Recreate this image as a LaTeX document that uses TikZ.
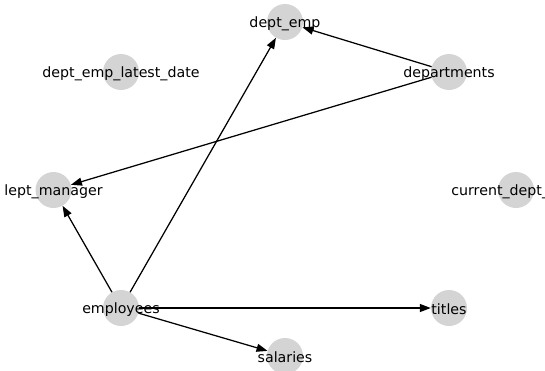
\documentclass[tikz,border=0pt]{standalone}
\usepackage{fontspec}
\setmainfont{DejaVu Sans}
\usetikzlibrary{arrows.meta}
\tikzset{
  nd/.style={circle, fill=black!17, minimum size=36pt, inner sep=0pt},
  lbl/.style={font=\fontsize{14.2pt}{16pt}\selectfont, text=black, inner sep=0pt, yshift=-1.5pt},
  edge/.style={line width=1.25pt, -{Triangle[length=11pt,width=8pt]}}
}
\begin{document}
\begin{tikzpicture}[x=1pt,y=-1pt]
\useasboundingbox (0,0) rectangle (545,370);
\clip (0,0) rectangle (545,370);
\node[nd] (de) at (285,22) {};
\node[nd] (del) at (121,72) {};
\node[nd] (dep) at (449,72) {};
\node[nd] (dm) at (53.5,190) {};
\node[nd] (cde) at (516,190) {};
\node[nd] (emp) at (121,308) {};
\node[nd] (tit) at (449,308) {};
\node[nd] (sal) at (285,356) {};
\draw[edge] (dep) -- (de);
\draw[edge] (dep) -- (dm);
\draw[edge] (emp) -- (de);
\draw[edge] (emp) -- (dm);
\draw[edge] (emp) -- (tit);
\draw[edge] (emp) -- (sal);
\node[lbl] (lde) at (285,22) {dept\_emp};
\node[lbl] (ldel) at (121,72) {dept\_emp\_latest\_date};
\node[lbl] (ldep) at (449,72) {departments};
\node[lbl] (ldm) at (53.5,190) {lept\_manager};
\node[lbl] (lcde) at (516,190) {current\_dept\_emp};
\node[lbl] (lemp) at (121,308) {employees};
\node[lbl] (ltit) at (449,308) {titles};
\node[lbl] (lsal) at (285,356) {salaries};
\end{tikzpicture}
\end{document}
